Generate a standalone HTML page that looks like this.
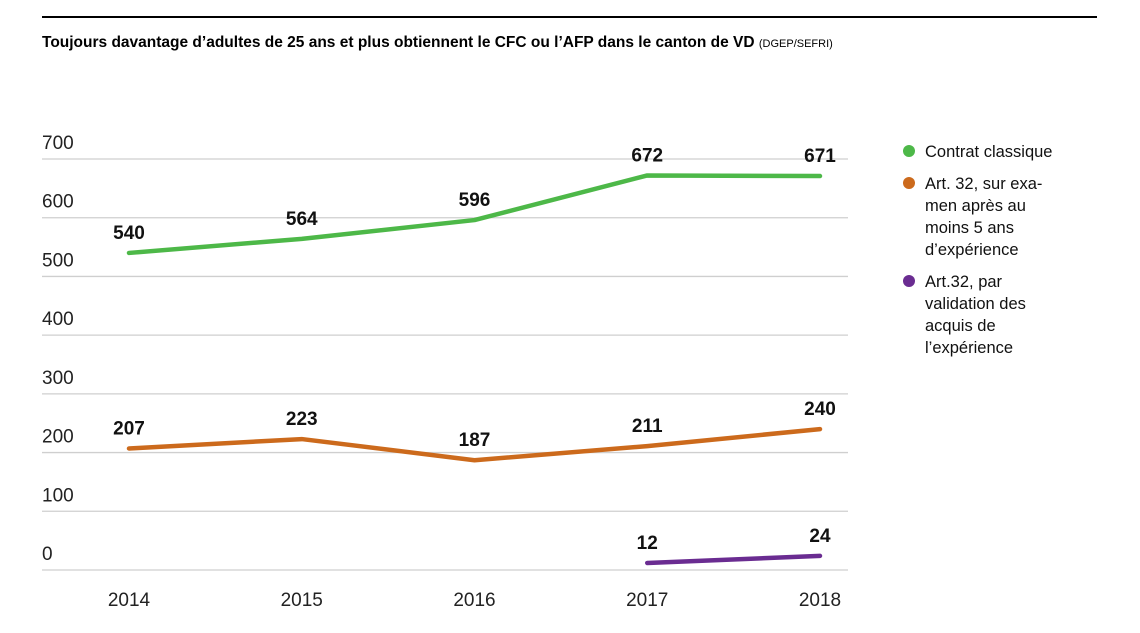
<!DOCTYPE html>
<html><head><meta charset="utf-8"><style>
body{margin:0;background:#fff;width:1140px;height:628px;overflow:hidden;font-family:"Liberation Sans",sans-serif}
</style></head><body>
<svg width="1140" height="628" xmlns="http://www.w3.org/2000/svg">
<line x1="42" y1="17" x2="1097" y2="17" stroke="#000" stroke-width="2"/>
<text x="42" y="47" font-size="15.5" font-weight="bold" fill="#000">Toujours davantage d’adultes de 25 ans et plus obtiennent le CFC ou l’AFP dans le canton de VD <tspan font-weight="normal" font-size="11">(DGEP/SEFRI)</tspan></text>
<g id="grid"></g><g id="series"></g>
<g font-size="16.5" fill="#111">
<circle cx="909" cy="151" r="6" fill="#4db848"/>
<text x="925" y="157">Contrat classique</text>
<circle cx="909" cy="183" r="6" fill="#cc6a1c"/>
<text x="925" y="189"><tspan x="925">Art. 32, sur exa-</tspan><tspan x="925" dy="22">men après au</tspan><tspan x="925" dy="22">moins 5 ans</tspan><tspan x="925" dy="22">d’expérience</tspan></text>
<circle cx="909" cy="281" r="6" fill="#6a2c91"/>
<text x="925" y="287"><tspan x="925">Art.32, par</tspan><tspan x="925" dy="22">validation des</tspan><tspan x="925" dy="22">acquis de</tspan><tspan x="925" dy="22">l’expérience</tspan></text>
</g>
</svg>
<script>
const years=["2014","2015","2016","2017","2018"];
const yTicks=[0,100,200,300,400,500,600,700];
const contrat=[540,564,596,672,671];
const exam=[207,223,187,211,240];
const vae=[null,null,null,12,24];
const NS="http://www.w3.org/2000/svg";
const x=i=>129+i*172.75;
const y=v=>570-v*411/700;
function mk(t,a,p){const e=document.createElementNS(NS,t);for(const k in a)e.setAttribute(k,a[k]);p.appendChild(e);return e;}
const g=document.getElementById('grid');
yTicks.forEach(v=>{
 const l=mk('line',{x1:42,x2:848,y1:y(v),y2:y(v),stroke:'#cfcfcf','stroke-width':1.3},g);
 
 
 const t=mk('text',{x:42,y:y(v)-10,'font-size':19,fill:'#222'},g);t.textContent=v;
 
 
});
years.forEach((yr,i)=>{
 const t=mk('text',{x:x(i),y:606,'font-size':19,fill:'#222','text-anchor':'middle'},g);t.textContent=yr;
 
 
});
const s=document.getElementById('series');
[[contrat,'#4db848','contrat'],[exam,'#cc6a1c','exam'],[vae,'#6a2c91','vae']].forEach(([d,c,n])=>{
 const pts=[];d.forEach((v,i)=>{if(v!=null)pts.push(x(i)+','+y(v));});
 const p=mk('polyline',{points:pts.join(' '),fill:'none',stroke:c,'stroke-width':4.5,'stroke-linecap':'round','stroke-linejoin':'round'},s);
 
 
 d.forEach((v,i)=>{if(v==null)return;
  const t=mk('text',{x:x(i),y:y(v)-14,'font-size':19,'font-weight':'bold',fill:'#111','text-anchor':'middle'},s);t.textContent=v;
  
  
 });
});
</script>
</body></html>
